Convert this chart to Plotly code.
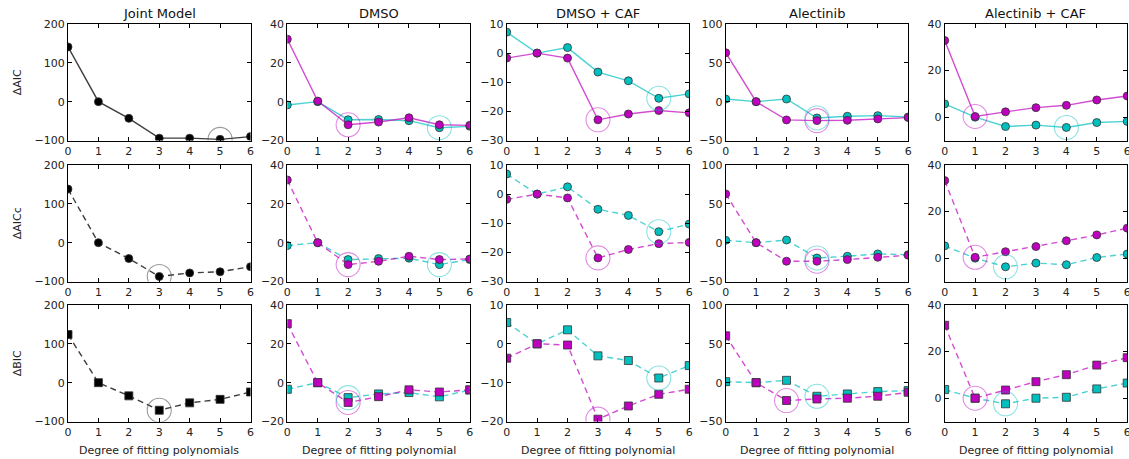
import plotly.graph_objects as go
from plotly.subplots import make_subplots

# ---------------- data ----------------
degrees = [0, 1, 2, 3, 4, 5, 6]
col_titles = ["Joint Model", "DMSO", "DMSO + CAF", "Alectinib", "Alectinib + CAF"]
row_labels = ["\u0394AIC", "\u0394AICc", "\u0394BIC"]
x_titles = ["Degree of fitting polynomials", "Degree of fitting polynomial",
            "Degree of fitting polynomial", "Degree of fitting polynomial",
            "Degree of fitting polynomial"]

# Joint model (black)
joint_aic = [141, 0, -43, -94, -94, -97, -90]
joint_aicc = [138, 0, -41, -87, -78, -75, -62]
joint_bic = [124, 0, -34, -71, -52, -43, -24]
joint_best = [5, 3, 3]

# DMSO
dmso_aic_mag = [32.2, 0.3, -11.9, -10.5, -8.3, -11.9, -12.2]
dmso_aic_cyan = [-1.7, 0, -9.3, -9.2, -9.8, -13.4, -12.7]
dmso_aicc_mag = [32.3, 0, -11.3, -9.6, -7.0, -8.7, -8.4]
dmso_aicc_cyan = [-1.5, 0, -8.7, -8.2, -8.0, -11.3, -8.7]
dmso_bic_mag = [30.4, 0, -10.2, -7.2, -3.7, -4.8, -3.7]
dmso_bic_cyan = [-3.4, 0, -7.7, -5.8, -5.1, -7.3, -3.8]
dmso_best_mag = [2, 2, 2]
dmso_best_cyan = [5, 5, 2]

# DMSO + CAF
dcaf_aic_mag = [-1.7, 0, -1.7, -22.9, -20.9, -19.7, -20.5]
dcaf_aic_cyan = [7.2, 0, 1.9, -6.5, -9.5, -15.5, -14.0]
dcaf_aicc_mag = [-1.8, 0, -1.3, -21.9, -19.0, -17.0, -16.6]
dcaf_aicc_cyan = [6.9, 0, 2.5, -5.2, -7.3, -12.9, -10.3]
dcaf_bic_mag = [-3.7, 0, -0.3, -19.4, -16.0, -13.0, -11.7]
dcaf_bic_cyan = [5.5, 0, 3.6, -3.1, -4.3, -8.8, -5.6]
dcaf_best_mag = [3, 3, 3]
dcaf_best_cyan = [5, 5, 5]

# Alectinib
alec_aic_mag = [63, 0, -23.5, -24.4, -24.0, -22.2, -20.5]
alec_aic_cyan = [3.4, 0, 3.4, -21.0, -18.8, -18.0, -19.7]
alec_aicc_mag = [62.8, 0, -23.9, -23.9, -21.8, -18.8, -16.2]
alec_aicc_cyan = [3.0, 0, 3.4, -19.7, -17.5, -14.5, -15.4]
alec_bic_mag = [60.3, 0, -23.0, -21.0, -20.0, -17.5, -12.4]
alec_bic_cyan = [1.3, 0, 3.0, -17.5, -14.5, -11.5, -10.2]
alec_best_mag = [3, 3, 2]
alec_best_cyan = [3, 3, 3]

# Alectinib + CAF
acaf_aic_mag = [32.9, 0.3, 2.3, 4.1, 5.1, 7.4, 9.1]
acaf_aic_cyan = [5.7, 0, -4.0, -3.4, -4.4, -2.3, -1.8]
acaf_aicc_mag = [33.3, 0.4, 2.8, 5.0, 7.5, 10.0, 12.9]
acaf_aicc_cyan = [5.3, 0, -3.7, -2.1, -2.8, 0.3, 1.8]
acaf_bic_mag = [31.3, 0, 3.5, 7.1, 10.1, 14.2, 17.4]
acaf_bic_cyan = [3.7, 0, -2.4, 0, 0.4, 4.0, 6.5]
acaf_best_mag = [1, 1, 1]
acaf_best_cyan = [4, 2, 2]

y_ranges = [
    [[-100, 200], [-100, 200], [-100, 200]],
    [[-20, 40], [-20, 40], [-20, 40]],
    [[-30, 10], [-30, 10], [-20, 10]],
    [[-50, 100], [-50, 100], [-50, 100]],
    [[-10, 40], [-10, 40], [-10, 40]],
]
y_dticks = [100, 20, 10, 50, 20]

pairs = [
    ([dmso_aic_mag, dmso_aicc_mag, dmso_bic_mag], [dmso_aic_cyan, dmso_aicc_cyan, dmso_bic_cyan], dmso_best_mag, dmso_best_cyan),
    ([dcaf_aic_mag, dcaf_aicc_mag, dcaf_bic_mag], [dcaf_aic_cyan, dcaf_aicc_cyan, dcaf_bic_cyan], dcaf_best_mag, dcaf_best_cyan),
    ([alec_aic_mag, alec_aicc_mag, alec_bic_mag], [alec_aic_cyan, alec_aicc_cyan, alec_bic_cyan], alec_best_mag, alec_best_cyan),
    ([acaf_aic_mag, acaf_aicc_mag, acaf_bic_mag], [acaf_aic_cyan, acaf_aicc_cyan, acaf_bic_cyan], acaf_best_mag, acaf_best_cyan),
]
joint_series = [joint_aic, joint_aicc, joint_bic]

# ---------------- style ----------------
W, H = 1129, 459
FONT = "DejaVu Sans"
MAG = "#BF00BF"
CYAN = "#00BFBF"
MAG_LINE = "rgba(191,0,191,0.7)"
CYAN_LINE = "rgba(0,191,191,0.7)"
MAG_RING = "rgba(191,0,191,0.45)"
CYAN_RING = "rgba(0,191,191,0.45)"
col_x0 = [68, 287.3, 506.7, 725.7, 944.7]
col_w = 182.5
row_top = [24, 165, 305]
row_h = 116.5

fig = make_subplots(rows=3, cols=5)

def add_series(r, c, y, fill, line_col, dash, symbol):
    fig.add_trace(go.Scatter(
        x=degrees, y=y, mode="lines+markers",
        line=dict(color=line_col, width=1.4, dash=dash),
        marker=dict(symbol=symbol, size=8, color=fill, line=dict(color="#333333", width=0.8)),
        showlegend=False, hoverinfo="skip", cliponaxis=True), row=r, col=c)

def add_ring(r, c, y, idx, ring_col):
    fig.add_trace(go.Scatter(
        x=[degrees[idx]], y=[y[idx]], mode="markers",
        marker=dict(symbol="circle-open", size=24, color=ring_col, line=dict(width=1.1)),
        showlegend=False, hoverinfo="skip", cliponaxis=True), row=r, col=c)

for ri in range(3):
    r = ri + 1
    dash = "solid" if ri == 0 else "6px,4px"
    symbol = "square" if ri == 2 else "circle"
    add_series(r, 1, joint_series[ri], "#000000", "rgba(40,40,40,0.9)", dash, symbol)
    add_ring(r, 1, joint_series[ri], joint_best[ri], "rgba(90,90,90,0.6)")
    for ci, (mags, cyans, bm, bc) in enumerate(pairs):
        c = ci + 2
        add_series(r, c, cyans[ri], CYAN, CYAN_LINE, dash, symbol)
        add_series(r, c, mags[ri], MAG, MAG_LINE, dash, symbol)
        add_ring(r, c, mags[ri], bm[ri], MAG_RING)
        add_ring(r, c, cyans[ri], bc[ri], CYAN_RING)

axis_common = dict(showline=True, linecolor="black", linewidth=1, mirror="allticks",
                   ticks="inside", ticklen=4, tickwidth=1, tickcolor="black",
                   showgrid=False, zeroline=False, automargin=False,
                   ticklabeloverflow="allow",
                   tickfont=dict(family=FONT, size=11, color="#222222"))

for ri in range(3):
    for ci in range(5):
        idx = ri * 5 + ci + 1
        xa = "xaxis" if idx == 1 else f"xaxis{idx}"
        ya = "yaxis" if idx == 1 else f"yaxis{idx}"
        x0 = col_x0[ci] / W
        x1 = min((col_x0[ci] + col_w) / W, 1.0)
        y1 = 1 - row_top[ri] / H
        y0 = 1 - (row_top[ri] + row_h) / H
        fig.layout[xa].update(domain=[x0, x1], range=[0, 6], dtick=1, tick0=0, **axis_common)
        fig.layout[ya].update(domain=[y0, y1], range=y_ranges[ci][ri], dtick=y_dticks[ci], tick0=0, **axis_common)

annotations = []
for ci, t in enumerate(col_titles):
    annotations.append(dict(text=t, x=(col_x0[ci] + col_w / 2) / W, y=1 - 13 / H,
                            xref="paper", yref="paper", showarrow=False,
                            font=dict(family=FONT, size=13, color="#111111"),
                            xanchor="center", yanchor="middle"))
    annotations.append(dict(text=x_titles[ci], x=(col_x0[ci] + col_w / 2) / W, y=1 - 450 / H,
                            xref="paper", yref="paper", showarrow=False,
                            font=dict(family=FONT, size=11, color="#222222"),
                            xanchor="center", yanchor="middle"))
for ri, t in enumerate(row_labels):
    annotations.append(dict(text=t, x=17 / W, y=1 - (row_top[ri] + row_h / 2) / H,
                            xref="paper", yref="paper", showarrow=False, textangle=-90,
                            font=dict(family=FONT, size=11, color="#222222"),
                            xanchor="center", yanchor="middle"))

fig.update_layout(width=W, height=H, margin=dict(l=0, r=0, t=0, b=0, autoexpand=False),
                  paper_bgcolor="white", plot_bgcolor="white",
                  annotations=annotations, showlegend=False)

# remove the browser's default 8px body margin so the figure sits at (0, 0)
fig.write_html("out.html", config={"displayModeBar": False},
               post_script="document.body.style.margin='0px';document.body.style.overflow='hidden';")
